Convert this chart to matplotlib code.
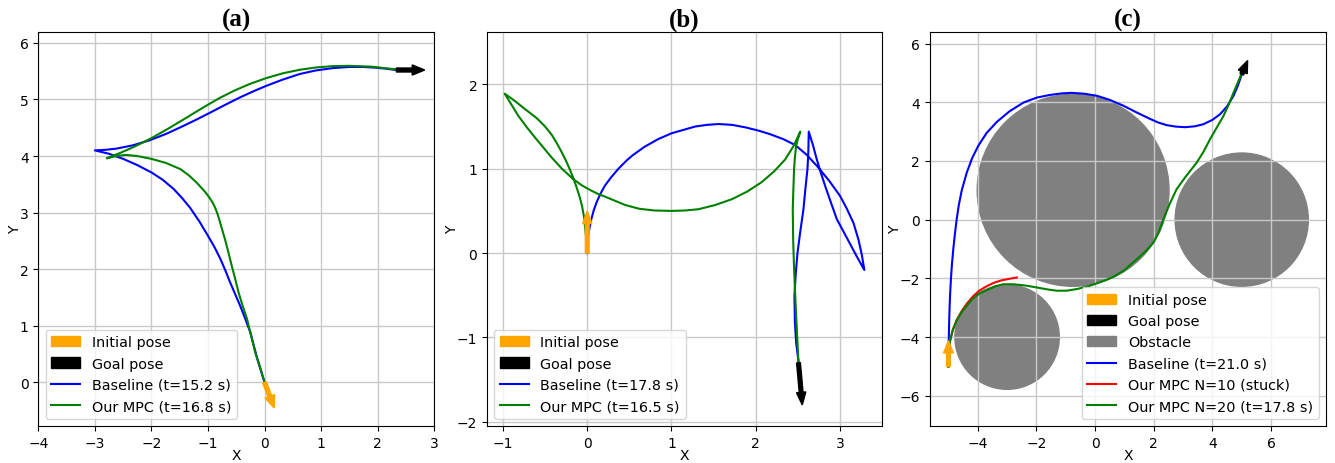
#!/usr/bin/env python3

import matplotlib
matplotlib.use('Agg')
import matplotlib.pyplot as plt
from matplotlib.patches import Circle

plt.rcParams['font.size'] = 10

# ---------------- (a) ----------------
a_base_x = [0, -0.065, -0.13, -0.19, -0.25, -0.34, -0.43, -0.52, -0.61, -0.69, -0.78, -0.88, -1.0, -1.15, -1.32, -1.46,
            -1.61, -1.8, -2.0, -2.25, -2.5, -2.75, -3.0,
            -2.81, -2.62, -2.33, -2.03, -1.73, -1.44, -1.2, -0.97, -0.7, -0.44, -0.2, 0.03, 0.32, 0.62, 0.9, 1.21,
            1.5, 1.75, 1.98, 2.15, 2.33]
a_base_y = [0, 0.21, 0.42, 0.65, 0.88, 1.12, 1.35, 1.56, 1.77, 1.97, 2.18, 2.38, 2.59, 2.84, 3.09, 3.26,
            3.42, 3.58, 3.71, 3.84, 3.95, 4.04, 4.1,
            4.11, 4.131, 4.189, 4.279, 4.396, 4.53, 4.646, 4.763, 4.903, 5.033, 5.143, 5.24, 5.35, 5.449, 5.511, 5.554,
            5.574, 5.574, 5.56, 5.543, 5.52]
a_mpc_x = [0, -0.08, -0.165, -0.24, -0.31, -0.39, -0.46, -0.52, -0.58, -0.64, -0.70, -0.77, -0.805, -0.84, -0.875,
           -0.91, -0.955, -1.0, -1.05, -1.1, -1.2, -1.34, -1.49, -1.75, -2.0, -2.25, -2.45, -2.62, -2.79,
           -2.55, -2.33, -2.15, -1.97, -1.68, -1.39, -1.1, -0.8, -0.53, -0.27, 0.02, 0.32, 0.62, 0.91, 1.2, 1.5,
           1.9, 2.33]
a_mpc_y = [0, 0.27, 0.53, 0.83, 1.12, 1.36, 1.59, 1.83, 2.06, 2.3, 2.53, 2.77, 2.89, 3.0, 3.09,
           3.16, 3.235, 3.30, 3.365, 3.42, 3.53, 3.66, 3.77, 3.88, 3.95, 4.0, 4.02, 4.0, 3.96,
           4.056, 4.153, 4.24, 4.333, 4.498, 4.672, 4.849, 5.023, 5.158, 5.27, 5.374, 5.461, 5.524, 5.565, 5.588, 5.594,
           5.578, 5.53]
a_start = (0, 0, 0.17, -0.45)
a_goal = (2.33, 5.52, 0.5, 0.0)

# ---------------- (b) ----------------
b_base_x = [0, 0.003, 0.012, 0.027, 0.048, 0.075, 0.11, 0.155, 0.21, 0.285, 0.37, 0.47, 0.54, 0.68, 0.84, 1.0, 1.14,
            1.28, 1.42, 1.56, 1.72, 1.88, 2.04, 2.17, 2.33, 2.47, 2.6, 2.73, 2.87, 3.0, 3.08, 3.16, 3.22, 3.26, 3.29,
            3.2, 3.12, 3.04, 2.964, 2.9, 2.83, 2.766, 2.72, 2.68, 2.63,
            2.625, 2.615, 2.59, 2.567, 2.53, 2.496, 2.475, 2.46, 2.465, 2.48, 2.51]
b_base_y = [0, 0.1, 0.2, 0.3, 0.4, 0.5, 0.6, 0.7, 0.8, 0.9, 1.0, 1.1, 1.16, 1.26, 1.35, 1.42, 1.46,
            1.50, 1.52, 1.53, 1.52, 1.49, 1.45, 1.41, 1.35, 1.28, 1.17, 1.03, 0.86, 0.68, 0.53, 0.36, 0.16, -0.02, -0.20,
            -0.04, 0.11, 0.26, 0.40, 0.58, 0.78, 0.975, 1.13, 1.28, 1.44,
            1.2, 1.0, 0.76, 0.52, 0.26, 0.0, -0.25, -0.51, -0.8, -1.06, -1.30]
b_mpc_x = [0, -0.008, -0.015, -0.025, -0.037, -0.06, -0.088, -0.13, -0.17, -0.21, -0.255, -0.305, -0.36, -0.42,
           -0.50, -0.60, -0.73, -0.855, -0.98,
           -0.9, -0.82, -0.72, -0.62, -0.52, -0.42, -0.3, -0.17, -0.06, 0.05, 0.13, 0.21, 0.33, 0.45, 0.62, 0.8, 1.0,
           1.16, 1.32, 1.52, 1.72, 1.9, 2.07, 2.22, 2.35, 2.45, 2.53,
           2.5, 2.48, 2.465, 2.456, 2.447, 2.44, 2.445, 2.456, 2.468, 2.48, 2.494, 2.508]
b_mpc_y = [0, 0.1, 0.2, 0.3, 0.42, 0.55, 0.66, 0.79, 0.90, 1.0, 1.1, 1.2, 1.3, 1.4,
           1.5, 1.6, 1.7, 1.8, 1.89,
           1.76, 1.63, 1.495, 1.37, 1.25, 1.13, 1.0, 0.88, 0.8, 0.74, 0.70, 0.67, 0.62, 0.57, 0.525, 0.505, 0.50,
           0.505, 0.52, 0.57, 0.64, 0.73, 0.84, 0.97, 1.11, 1.27, 1.44,
           1.35, 1.27, 1.13, 1.0, 0.75, 0.52, 0.15, -0.19, -0.47, -0.74, -1.02, -1.30]
b_start = (0, 0, 0.0, 0.5)
b_goal = (2.508, -1.30, 0.045, -0.5)

# ---------------- (c) ----------------
c_obs_x = [-0.75, 5.0, -3.0]
c_obs_y = [1.0, 0.0, -4.0]
c_obs_r = [3.27, 2.27, 1.78]
c_base_x = [-5, -4.995, -4.987, -4.976, -4.961, -4.941, -4.914, -4.879, -4.834, -4.781, -4.721, -4.646, -4.546,
            -4.376, -4.19, -3.98, -3.7,
            -3.35, -2.92, -2.44, -1.98, -1.53, -1.15, -0.80, -0.37, 0.06, 0.5, 0.97, 1.42, 1.88, 2.15, 2.44, 2.75,
            3.07, 3.4, 3.69, 4.0, 4.26, 4.5, 4.72, 4.87, 5.0]
c_base_y = [-5, -4.5, -4.0, -3.5, -3.0, -2.5, -2.0, -1.5, -1.0, -0.5, 0.0, 0.5, 1.0,
            1.6, 2.1, 2.52, 2.95,
            3.33, 3.69, 3.99, 4.16, 4.25, 4.3, 4.32, 4.29, 4.22, 4.08, 3.88, 3.65, 3.43, 3.31, 3.22, 3.17,
            3.15, 3.18, 3.25, 3.4, 3.59, 3.86, 4.22, 4.57, 4.95]
c_stuck_x = [-5, -4.99, -4.95, -4.85, -4.72, -4.55, -4.37, -4.15, -3.95, -3.7, -3.45, -3.2, -2.95, -2.67]
c_stuck_y = [-5, -4.6, -4.15, -3.75, -3.42, -3.12, -2.86, -2.6, -2.42, -2.27, -2.15, -2.07, -2.02, -1.97]
c_mpc_x = [-5, -4.99, -4.95, -4.85, -4.72, -4.55, -4.37, -4.18, -3.95, -3.69, -3.4, -3.13, -2.8, -2.4, -1.99,
           -1.6, -1.31, -0.97, -0.6, -0.2, 0.2, 0.6, 1.0, 1.42, 1.75, 1.99, 2.18, 2.33, 2.55, 2.78, 3.1, 3.47,
           3.7, 3.92, 4.15, 4.38, 4.56, 4.72, 4.87, 5.0]
c_mpc_y = [-5, -4.6, -4.15, -3.75, -3.44, -3.15, -2.93, -2.7, -2.52, -2.4, -2.27, -2.2, -2.2, -2.24, -2.31,
           -2.38, -2.42, -2.42, -2.36, -2.26, -2.12, -1.96, -1.72, -1.35, -1.05, -0.78, -0.4, 0.02, 0.55, 1.04, 1.48, 1.95,
           2.32, 2.74, 3.14, 3.54, 3.93, 4.33, 4.68, 4.99]
c_start = (-5, -5, 0.0, 0.88)
c_goal = (5.0, 4.95, 0.2, 0.47)


def draw_arrows(ax, start, goal, w, hw, hl):
    ax.arrow(*start, width=w, head_width=hw, head_length=hl, length_includes_head=True,
             color='orange', label='Initial pose', zorder=5)
    ax.arrow(*goal, width=w, head_width=hw, head_length=hl, length_includes_head=True,
             color='black', label='Goal pose', zorder=5)


def style(ax, title, xlim, ylim):
    ax.set_xlim(*xlim)
    ax.set_ylim(*ylim)
    ax.set_xlabel('X', labelpad=-1)
    ax.set_ylabel('Y', labelpad=-2)
    ax.set_title(title, fontfamily='Liberation Serif', fontweight='bold', fontsize=18, pad=5)
    ax.grid(True, color='#c8c8c8', lw=1.0)


fig = plt.figure(figsize=(13.35, 4.64), dpi=100)
ax1 = fig.add_axes([0.0287, 0.0797, 0.2966, 0.849])
ax2 = fig.add_axes([0.3648, 0.0797, 0.2959, 0.849])
ax3 = fig.add_axes([0.6966, 0.0797, 0.2966, 0.849])

# (a)
draw_arrows(ax1, a_start, a_goal, 0.07, 0.18, 0.22)
ax1.plot(a_base_x, a_base_y, color='blue', lw=1.5, label='Baseline (t=15.2 s)')
ax1.plot(a_mpc_x, a_mpc_y, color='green', lw=1.5, label='Our MPC (t=16.8 s)')
style(ax1, '(a)', (-4, 3), (-0.77, 6.19))
ax1.set_xticks(range(-4, 4))
ax1.legend(loc='lower left', fontsize=10.4)

# (b)
draw_arrows(ax2, b_start, b_goal, 0.045, 0.11, 0.15)
ax2.plot(b_base_x, b_base_y, color='blue', lw=1.5, label='Baseline (t=17.8 s)')
ax2.plot(b_mpc_x, b_mpc_y, color='green', lw=1.5, label='Our MPC (t=16.5 s)')
style(ax2, '(b)', (-1.19, 3.5), (-2.05, 2.62))
ax2.set_xticks(range(-1, 4))
ax2.set_yticks(range(-2, 3))
ax2.legend(loc='lower left', fontsize=10.4)

# (c)
draw_arrows(ax3, c_start, c_goal, 0.13, 0.33, 0.42)
for i, (cx, cy, r) in enumerate(zip(c_obs_x, c_obs_y, c_obs_r)):
    ax3.add_patch(Circle((cx, cy), r, color='gray', zorder=1,
                         label='Obstacle' if i == 0 else None))
ax3.plot(c_base_x, c_base_y, color='blue', lw=1.5, label='Baseline (t=21.0 s)')
ax3.plot(c_stuck_x, c_stuck_y, color='red', lw=1.5, label='Our MPC N=10 (stuck)')
ax3.plot(c_mpc_x, c_mpc_y, color='green', lw=1.5, label='Our MPC N=20 (t=17.8 s)')
style(ax3, '(c)', (-5.63, 7.87), (-7.03, 6.39))
ax3.set_xticks(range(-4, 8, 2))
ax3.set_yticks(range(-6, 7, 2))
ax3.legend(loc='lower right', fontsize=10.4)

plt.savefig('out.png', dpi=100)
plt.close()
